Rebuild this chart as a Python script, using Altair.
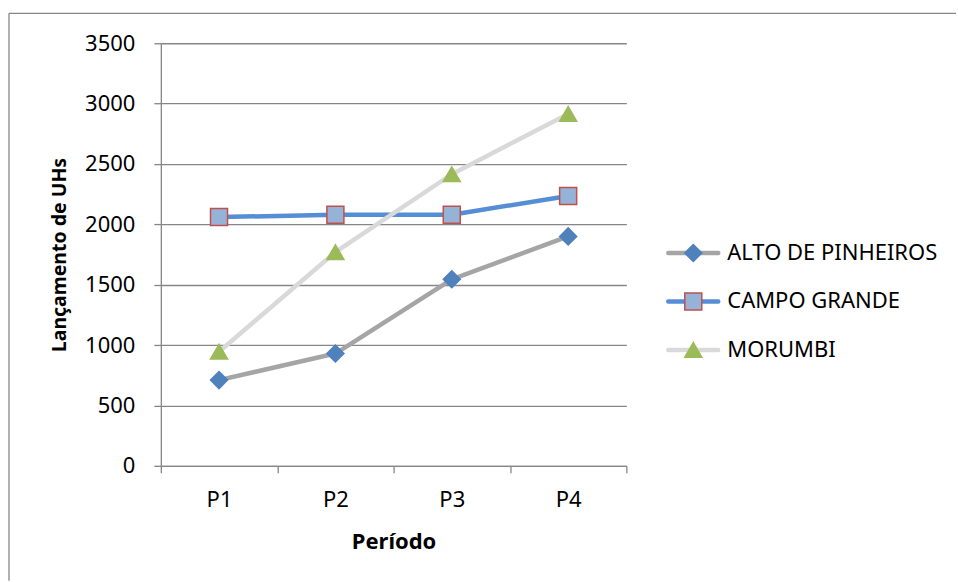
import altair as alt
import pandas as pd

# ---- data -------------------------------------------------------------
periods = ["P1", "P2", "P3", "P4"]
series_names = ["ALTO DE PINHEIROS", "CAMPO GRANDE", "MORUMBI"]
alto = [710, 930, 1545, 1900]
campo = [2060, 2080, 2080, 2235]
morumbi = [945, 1770, 2415, 2915]
y_ticks = [0, 500, 1000, 1500, 2000, 2500, 3000, 3500]

# ---- styles -----------------------------------------------------------
FONT = "Noto Sans"
GRID = "#868686"
line_colors = ["#A5A5A5", "#558ED5", "#D9D9D9"]
marker_shapes = ["diamond", "square", "triangle-up"]
marker_fills = ["#4F81BD", "#95B3D7", "#9BBB59"]
marker_strokes = ["#4F81BD", "#C0504D", "#9BBB59"]
marker_sizes = [290, 290, 400]

df = pd.DataFrame({
    "period": periods * 3,
    "series": [s for s in series_names for _ in periods],
    "value": alto + campo + morumbi,
})
legend_df = pd.DataFrame({"series": series_names})

color_scale = alt.Scale(domain=series_names, range=line_colors)
shape_scale = alt.Scale(domain=series_names, range=marker_shapes)
fill_scale = alt.Scale(domain=series_names, range=marker_fills)
stroke_scale = alt.Scale(domain=series_names, range=marker_strokes)
size_scale = alt.Scale(domain=series_names, range=marker_sizes)

x_enc = alt.X(
    "period:N",
    sort=periods,
    scale=alt.Scale(type="band", paddingInner=0, paddingOuter=0),
    axis=alt.Axis(
        title="Período",
        tickBand="extent",
        labelAngle=0,
        labelFont=FONT,
        labelFontSize=22,
        labelColor="black",
        labelPadding=17,
        titleFont=FONT,
        titleFontSize=22,
        titleFontWeight="bold",
        titleColor="black",
        titlePadding=21,
        domainColor=GRID,
        domainWidth=1.3,
        tickColor=GRID,
        tickWidth=1.3,
        tickSize=7,
        grid=False,
    ),
)
y_enc = alt.Y(
    "value:Q",
    scale=alt.Scale(domain=[0, 3500], nice=False),
    axis=alt.Axis(
        values=y_ticks,
        format="d",
        title="Lançamento de UHs",
        labelFont=FONT,
        labelFontSize=22,
        labelColor="black",
        labelPadding=19,
        titleFont=FONT,
        titleFontSize=19.5,
        titleFontWeight="bold",
        titleColor="black",
        titlePadding=15,
        domainColor=GRID,
        domainWidth=1.3,
        tickColor=GRID,
        tickWidth=1.3,
        tickSize=7,
        grid=True,
        gridColor=GRID,
        gridWidth=1.3,
    ),
)

base = alt.Chart(df)
lines = base.mark_line(strokeWidth=4.5, strokeJoin="round").encode(
    x=x_enc,
    y=y_enc,
    color=alt.Color("series:N", scale=color_scale, legend=None),
)
points = base.mark_point(filled=True, opacity=1, strokeWidth=1.5).encode(
    x=x_enc,
    y=y_enc,
    shape=alt.Shape("series:N", scale=shape_scale, legend=None),
    fill=alt.Fill("series:N", scale=fill_scale, legend=None),
    stroke=alt.Stroke("series:N", scale=stroke_scale, legend=None),
    size=alt.Size("series:N", scale=size_scale, legend=None),
)

# outer frame of the chart (decoration)
frame_src = alt.Chart(alt.Data(values=[{}]))
frame_left = frame_src.mark_rule(color=GRID, strokeWidth=1.3).encode(
    x=alt.value(-152), y=alt.value(-30), y2=alt.value(538)
)
frame_top = frame_src.mark_rule(color=GRID, strokeWidth=1.3).encode(
    x=alt.value(-152), x2=alt.value(796), y=alt.value(-30)
)

main = alt.layer(frame_left, frame_top, lines, points).properties(width=466, height=423)

# ---- legend -------------------------------------------------------------
leg_y = alt.Y(
    "series:N",
    sort=series_names,
    scale=alt.Scale(type="point", domain=series_names, range=[210, 307], padding=0),
    axis=None,
)
leg_base = alt.Chart(legend_df)
leg_lines = leg_base.mark_rule(strokeWidth=4.5, strokeCap="round").encode(
    x=alt.value(2),
    x2=alt.value(52),
    y=leg_y,
    color=alt.Color("series:N", scale=color_scale, legend=None),
)
leg_points = leg_base.mark_point(filled=True, opacity=1, strokeWidth=1.5).encode(
    x=alt.value(27),
    y=leg_y,
    shape=alt.Shape("series:N", scale=shape_scale, legend=None),
    fill=alt.Fill("series:N", scale=fill_scale, legend=None),
    stroke=alt.Stroke("series:N", scale=stroke_scale, legend=None),
    size=alt.Size("series:N", scale=size_scale, legend=None),
)
leg_text = leg_base.mark_text(
    align="left", baseline="middle", font=FONT, fontSize=22, color="black"
).encode(
    x=alt.value(61),
    y=leg_y,
    text="series:N",
)
legend = alt.layer(leg_lines, leg_points, leg_text).properties(width=280, height=423)

chart = (
    alt.hconcat(main, legend, spacing=40, bounds="flush")
    .properties(padding={"left": 7, "top": 11, "right": 0, "bottom": 0}, background="white")
    .configure_view(stroke="transparent")
)

chart.save("out.html", embed_options={"renderer": "svg", "actions": False})
